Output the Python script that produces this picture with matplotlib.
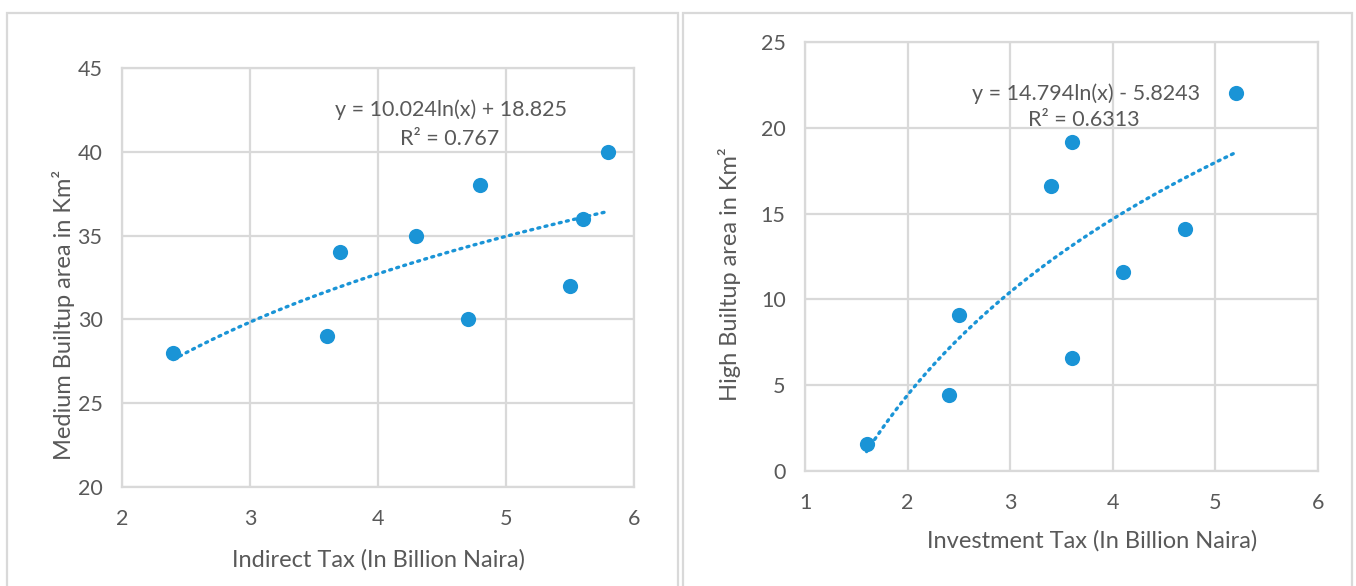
import numpy as np
import matplotlib
matplotlib.use("Agg")
import matplotlib.pyplot as plt
from matplotlib.patches import Rectangle

plt.rcParams['font.family'] = ['Lato', 'DejaVu Sans']

# Indirect tax vs medium built-up area
indirect_tax = [2.4, 3.6, 3.7, 4.3, 4.7, 4.8, 5.5, 5.6, 5.8]
medium_area = [28, 29, 34, 35, 30, 38, 32, 36, 40]
medium_coef = (10.024, 18.825)
medium_r2 = "0.767"

# Investment tax vs high built-up area
investment_tax = [1.6, 2.4, 2.5, 3.4, 3.6, 3.6, 4.1, 4.7, 5.2]
high_area = [1.6, 4.4, 9.1, 16.6, 19.2, 6.6, 11.6, 14.1, 22.0]
high_coef = (14.794, -5.8243)
high_r2 = "0.6313"

left_xticks = [2, 3, 4, 5, 6]
left_yticks = [20, 25, 30, 35, 40, 45]
right_xticks = [1, 2, 3, 4, 5, 6]
right_yticks = [0, 5, 10, 15, 20, 25]

DOT = "#1a94d6"
GRID = "#d9d9d9"
TEXT = "#595959"

W, H = 1356, 586
fig = plt.figure(figsize=(W / 100, H / 100), dpi=100)
fig.patch.set_facecolor("white")

# panel frames
for x0, x1 in [(7, 678), (683, 1352)]:
    fig.add_artist(Rectangle((x0 / W, -0.05), (x1 - x0) / W, (H - 13) / H + 0.05,
                             transform=fig.transFigure, fill=False,
                             edgecolor=GRID, linewidth=1.6))


def panel(rect, xs, ys, coef, r2, xticks, yticks, xlabel, ylabel, eq, eq_pos, r2_pos,
          xpad, ypad, xlab_x, ylab_y):
    ax = fig.add_axes(rect)
    ax.set_xlim(xticks[0], xticks[-1])
    ax.set_ylim(yticks[0], yticks[-1])
    ax.set_xticks(xticks)
    ax.set_yticks(yticks)
    ax.grid(True, color=GRID, linewidth=1.6)
    ax.set_axisbelow(True)
    for s in ax.spines.values():
        s.set_color(GRID)
        s.set_linewidth(1.6)
    ax.tick_params(axis="x", length=0, labelsize=15.5, colors=TEXT, pad=16)
    ax.tick_params(axis="y", length=0, labelsize=15.5, colors=TEXT, pad=14)
    ax.scatter(xs, ys, s=120, color=DOT, zorder=3, linewidths=0)
    xt = np.linspace(min(xs), max(xs), 200)
    yt = coef[0] * np.log(xt) + coef[1]
    ax.plot(xt, yt, color=DOT, linestyle=(0, (0.6, 1.6)), linewidth=2.4,
            dash_capstyle="round", zorder=2)
    ax.set_xlabel(xlabel, fontsize=17, color=TEXT, labelpad=xpad)
    ax.set_ylabel(ylabel, fontsize=17, color=TEXT, labelpad=ypad)
    ax.xaxis.label.set_x(xlab_x)
    ax.yaxis.label.set_y(ylab_y)
    ax.text(eq_pos[0], eq_pos[1], eq, fontsize=15.5, color=TEXT, ha="center", va="center")
    ax.text(r2_pos[0], r2_pos[1], "R² = " + r2, fontsize=15.5, color=TEXT,
            ha="center", va="center")
    return ax


panel([122 / W, 1 - 487 / H, (634 - 122) / W, (487 - 68) / H],
      indirect_tax, medium_area, medium_coef, medium_r2,
      left_xticks, left_yticks,
      "Indirect Tax (In Billion Naira)", "Medium Builtup area in Km²",
      "y = 10.024ln(x) + 18.825", (4.57, 42.5), (4.56, 40.75), 14, 2, 0.5, 0.41)

panel([805 / W, 1 - 471 / H, (1318 - 805) / W, (471 - 42) / H],
      investment_tax, high_area, high_coef, high_r2,
      right_xticks, right_yticks,
      "Investment Tax (In Billion Naira)", "High Builtup area in Km²",
      "y = 14.794ln(x) - 5.8243", (3.74, 22.0), (3.72, 20.45), 12, 14, 0.56, 0.46)

fig.savefig("out.png", dpi=100, facecolor="white")
